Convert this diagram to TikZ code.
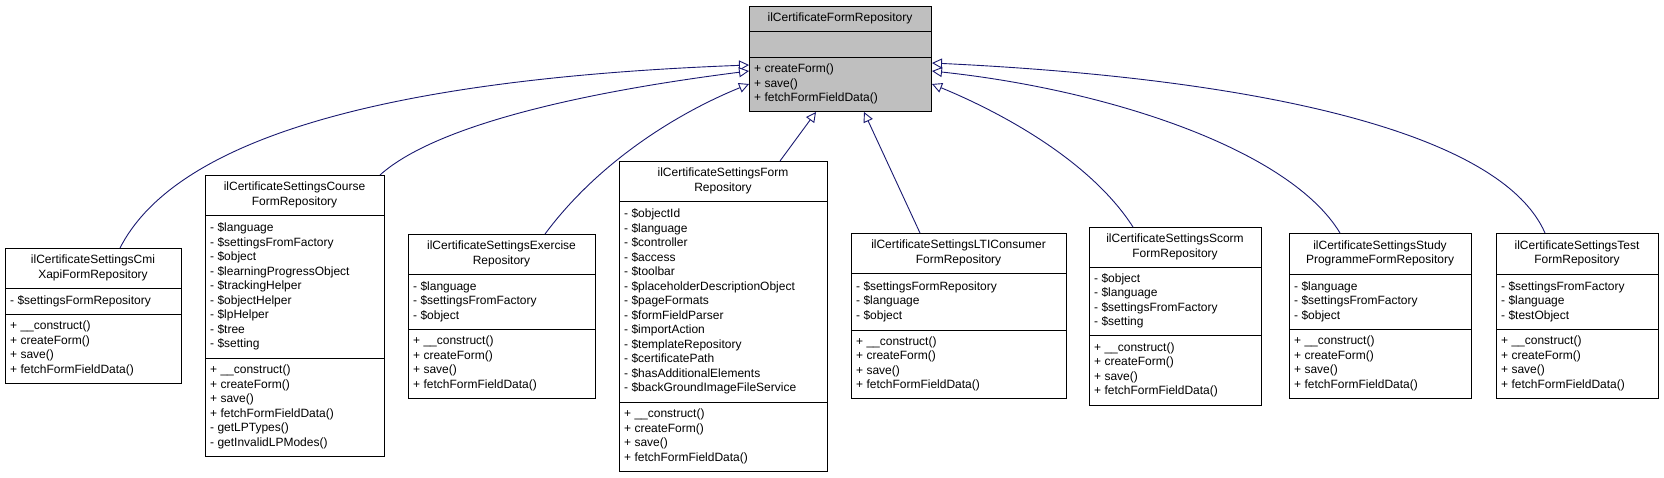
\documentclass[tikz,border=0pt]{standalone}
\usepackage{fontspec}
\setmainfont{Liberation Sans}
\usetikzlibrary{arrows.meta,calc}
\definecolor{edgeblue}{HTML}{191970}
\definecolor{parentgray}{HTML}{BFBFBF}
\newcommand\umlclass[9]{%
  \node[box, minimum width={(#3-#2)*1pt}, minimum height={(#7-#4)*1pt}, anchor=north west] (#1) at (#2,#4) {};
  \draw[sep] (#2,#5) -- (#3,#5);
  \draw[sep] (#2,#6) -- (#3,#6);
  \node[txt, align=center] (#1-t) at ({(#2+#3)/2},{(#4+#5)/2}) {#8};
  \node[txt, align=left, anchor=west] (#1-a) at ({#2+5},{(#5+#6)/2}) {#9};
  \node[txt, align=left, anchor=west] (#1-m) at ({#2+5},{(#6+#7)/2}) {\mth};
}
\begin{document}
\begin{tikzpicture}[x=1pt,y=-1pt,
  box/.style={draw=black, line width=1pt, inner sep=0pt, fill=white},
  sep/.style={draw=black, line width=1pt},
  txt/.style={inner sep=0pt, font=\fontsize{12}{14.5}\selectfont},
  inh/.style={draw=edgeblue, line width=0.9pt, -{Triangle[open,length=10pt,width=10pt,fill=white]}}]
\useasboundingbox (0,0) rectangle (1664,477);
% parent
\node[box, fill=parentgray, minimum width=182pt, minimum height=105pt, anchor=north west] (P) at (749,6) {};
\draw[sep] (749,31) -- (931,31);
\draw[sep] (749,57) -- (931,57);
\node[txt] (P-t) at (840,18.5) {ilCertificateFormRepository};
\node[txt, align=left, anchor=west] (P-m) at (754,84) {+ createForm()\\+ save()\\+ fetchFormFieldData()};
\def\mth{+ \_\_construct()\\+ createForm()\\+ save()\\+ fetchFormFieldData()}
\umlclass{cmi}{5}{181}{248}{288}{314}{383}{ilCertificateSettingsCmi\\XapiFormRepository}{- \$settingsFormRepository}
\umlclass{exe}{408}{595}{234}{274}{329}{398}{ilCertificateSettingsExercise\\Repository}{- \$language\\- \$settingsFromFactory\\- \$object}
\umlclass{frm}{619}{827}{161}{201}{402}{471}{ilCertificateSettingsForm\\Repository}{- \$objectId\\- \$language\\- \$controller\\- \$access\\- \$toolbar\\- \$placeholderDescriptionObject\\- \$pageFormats\\- \$formFieldParser\\- \$importAction\\- \$templateRepository\\- \$certificatePath\\- \$hasAdditionalElements\\- \$backGroundImageFileService}
\umlclass{lti}{851}{1066}{233}{273}{330}{398}{ilCertificateSettingsLTIConsumer\\FormRepository}{- \$settingsFormRepository\\- \$language\\- \$object}
\umlclass{scm}{1089}{1261}{227}{267}{335}{405}{ilCertificateSettingsScorm\\FormRepository}{- \$object\\- \$language\\- \$settingsFromFactory\\- \$setting}
\umlclass{stp}{1289}{1471}{233}{274}{329}{398}{ilCertificateSettingsStudy\\ProgrammeFormRepository}{- \$language\\- \$settingsFromFactory\\- \$object}
\umlclass{tst}{1496}{1658}{233}{274}{329}{398}{ilCertificateSettingsTest\\FormRepository}{- \$settingsFromFactory\\- \$language\\- \$testObject}
\def\mth{+ \_\_construct()\\+ createForm()\\+ save()\\+ fetchFormFieldData()\\- getLPTypes()\\- getInvalidLPModes()}
\umlclass{crs}{205}{384}{175}{215}{358}{456}{ilCertificateSettingsCourse\\FormRepository}{- \$language\\- \$settingsFromFactory\\- \$object\\- \$learningProgressObject\\- \$trackingHelper\\- \$objectHelper\\- \$lpHelper\\- \$tree\\- \$setting}
% edges
\draw[inh] ($(cmi.north west)+(115,0)$) .. controls (170,150) and (350,80) .. ($(P.north west)+(0,59)$);
\draw[inh] ($(crs.north west)+(175,0)$) .. controls (430,130) and (560,95) .. ($(P.north west)+(0,65)$);
\draw[inh] ($(exe.north west)+(137,0)$) .. controls (600,160) and (680,112) .. ($(P.north west)+(0,78)$);
\draw[inh] ($(frm.north west)+(161,0)$) -- ($(P.south west)+(67,0)$);
\draw[inh] ($(lti.north west)+(69,0)$) -- ($(P.south west)+(115,0)$);
\draw[inh] ($(scm.north west)+(44,0)$) .. controls (1090,160) and (1000,112) .. ($(P.north east)+(0,78)$);
\draw[inh] ($(stp.north west)+(51,0)$) .. controls (1290,150) and (1110,90) .. ($(P.north east)+(0,65)$);
\draw[inh] ($(tst.north west)+(49,0)$) .. controls (1500,130) and (1250,78) .. ($(P.north east)+(0,57)$);
\end{tikzpicture}
\end{document}
